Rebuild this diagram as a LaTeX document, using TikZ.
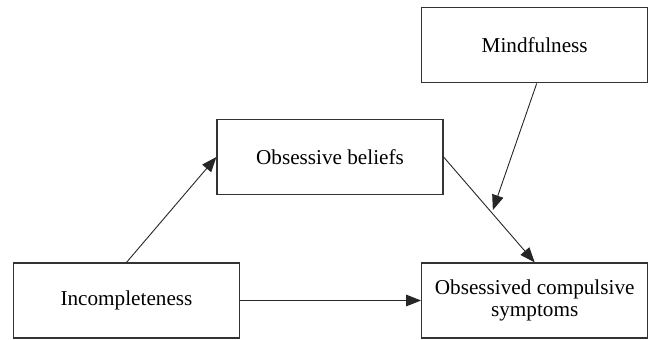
\documentclass[tikz,border=0pt]{standalone}
\usepackage{fontspec}
\setmainfont{Liberation Serif}
\usetikzlibrary{positioning,arrows.meta,calc}

\begin{document}
\begin{tikzpicture}[x=0.5pt, y=-0.5pt,
    box/.style={draw=black!80, line width=0.6pt, minimum width=113pt,
      minimum height=37.5pt, inner sep=0pt, align=center,
      font=\fontsize{10.6}{11.2}\selectfont},
    link/.style={draw=black!85, line width=0.45pt,
      -{Triangle[length=7.5pt, width=5.8pt]}}]
  \useasboundingbox (0,0) rectangle (653,339);
  \node [box] (inc) at (126.5,300.5) {Incompleteness};
  \node [box, right=90.5pt of inc] (ocs) {Obsessived compulsive\\symptoms};
  \node [box, above=89.5pt of ocs] (mind) {Mindfulness};
  \node [box] (ob) at (330,157) {Obsessive beliefs};
  % moderation point on the ob -> ocs path
  \coordinate (m) at ($(ob.east)!0.53!(ocs.north)$);
  \draw [link] (inc.north) -- (ob.west);
  \draw [link] (inc) -- (ocs);
  \draw [link] (ob.east) -- (ocs.north);
  \draw [link, shorten >=1.5pt] ([xshift=1pt]mind.south) -- (m);
\end{tikzpicture}
\end{document}
